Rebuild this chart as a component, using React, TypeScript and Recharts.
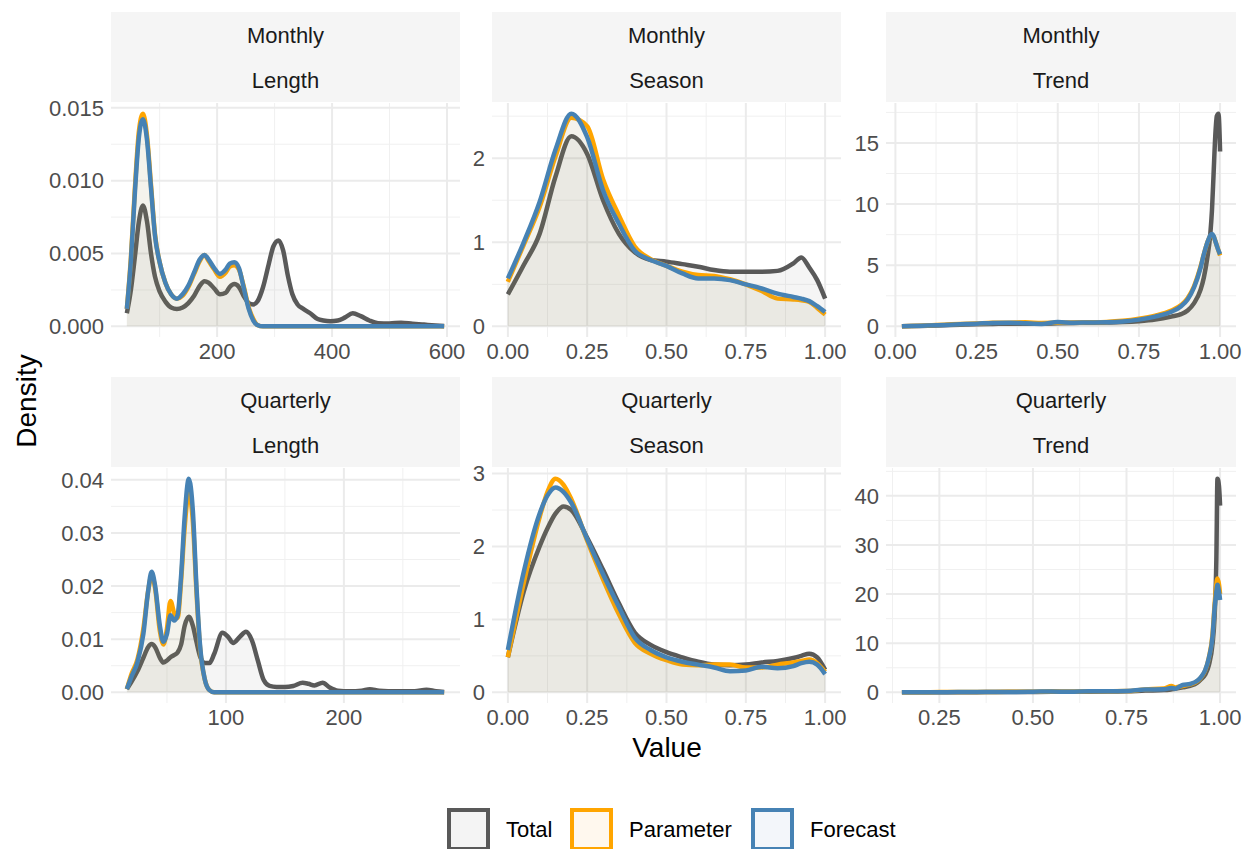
import React from 'react';
import { ComposedChart, Area, XAxis, YAxis, CartesianGrid } from 'recharts';

const FONT = '"Liberation Sans", Arial, Helvetica, sans-serif';

const seriesNames = ['Total', 'Parameter', 'Forecast'];
const seriesColors = ['#595959', '#FFA500', '#4682B4'];
const legendFills = ['#F4F4F4', '#FFF8EE', '#F3F6FA'];

// Monthly / Length
const mLenX = [43, 50, 57, 64, 71, 78, 85, 92, 100, 110, 120, 130, 140, 150, 160, 170, 178, 185, 195, 205, 215, 222, 230, 238, 246, 255, 263, 270, 280, 290, 298, 307, 315, 323, 331, 340, 350, 362, 375, 385, 397, 410, 422, 436, 450, 465, 480, 500, 520, 540, 560, 580, 595];
const mLenTotal = [0.0009, 0.0025, 0.0048, 0.0072, 0.0083, 0.0072, 0.005, 0.0034, 0.0024, 0.0017, 0.0013, 0.0012, 0.0013, 0.0016, 0.0021, 0.0028, 0.0031, 0.003, 0.0026, 0.0022, 0.0023, 0.0027, 0.0029, 0.0027, 0.0021, 0.0016, 0.0015, 0.0017, 0.0027, 0.0043, 0.0055, 0.0059, 0.0052, 0.0035, 0.0022, 0.0015, 0.0012, 0.0009, 0.0005, 0.0004, 0.00035, 0.0004, 0.0006, 0.0009, 0.0007, 0.0004, 0.00022, 0.0002, 0.00025, 0.00018, 0.00012, 0.00006, 0.00002];
const mLenParam = [0.0012, 0.0047, 0.0095, 0.0134, 0.0146, 0.0131, 0.0097, 0.0063, 0.0044, 0.003, 0.0022, 0.0019, 0.0021, 0.0027, 0.0036, 0.0045, 0.0049, 0.0045, 0.0039, 0.0034, 0.0037, 0.0041, 0.0042, 0.0039, 0.0028, 0.0013, 0.0005, 0.0001, 0, 0, 0, 0, 0, 0, 0, 0, 0, 0, 0, 0, 0, 0, 0, 0, 0, 0, 0, 0, 0, 0, 0, 0, 0];
const mLenFcst = [0.0012, 0.0045, 0.0092, 0.013, 0.01422, 0.0128, 0.0095, 0.0062, 0.0044, 0.003, 0.0022, 0.0019, 0.0022, 0.0028, 0.0037, 0.0046, 0.0049, 0.0046, 0.004, 0.0036, 0.0039, 0.0043, 0.0044, 0.004, 0.0027, 0.0012, 0.0004, 0.0001, 0, 0, 0, 0, 0, 0, 0, 0, 0, 0, 0, 0, 0, 0, 0, 0, 0, 0, 0, 0, 0, 0, 0, 0, 0];

// Monthly / Season
const mSeaX = [0, 0.05, 0.1, 0.15, 0.2, 0.25, 0.3, 0.35, 0.4, 0.45, 0.5, 0.55, 0.6, 0.65, 0.7, 0.75, 0.8, 0.85, 0.9, 0.925, 0.95, 0.975, 1];
const mSeaTotal = [0.38, 0.73, 1.1, 1.78, 2.26, 2.05, 1.5, 1.1, 0.88, 0.79, 0.77, 0.74, 0.71, 0.67, 0.65, 0.65, 0.65, 0.66, 0.75, 0.82, 0.7, 0.55, 0.33];
const mSeaParam = [0.53, 0.97, 1.42, 2.02, 2.48, 2.38, 1.75, 1.32, 0.95, 0.8, 0.72, 0.65, 0.61, 0.6, 0.56, 0.5, 0.42, 0.33, 0.32, 0.31, 0.29, 0.22, 0.14];
const mSeaFcst = [0.57, 1.0, 1.48, 2.1, 2.53, 2.25, 1.62, 1.22, 0.9, 0.79, 0.72, 0.63, 0.57, 0.57, 0.55, 0.5, 0.45, 0.39, 0.35, 0.33, 0.3, 0.24, 0.17];

// Monthly / Trend
const mTrdX = [0.02, 0.05, 0.1, 0.15, 0.2, 0.25, 0.3, 0.35, 0.4, 0.45, 0.5, 0.55, 0.6, 0.65, 0.7, 0.75, 0.8, 0.85, 0.88, 0.9, 0.92, 0.94, 0.95, 0.96, 0.97, 0.975, 0.98, 0.985, 0.99, 0.995, 1.0];
const mTrdTotal = [0, 0.02, 0.05, 0.1, 0.14, 0.18, 0.2, 0.22, 0.22, 0.22, 0.25, 0.28, 0.3, 0.32, 0.35, 0.42, 0.55, 0.8, 1.0, 1.3, 1.9, 3.0, 4.0, 5.5, 7.6, 9.5, 12.5, 15.5, 17.2, 17.4, 14.3];
const mTrdParam = [0, 0.03, 0.08, 0.14, 0.19, 0.24, 0.29, 0.3, 0.33, 0.28, 0.3, 0.32, 0.33, 0.36, 0.45, 0.62, 0.88, 1.3, 1.75, 2.3, 3.3, 4.9, 5.9, 6.8, 7.4, 7.5, 7.35, 7.0, 6.6, 6.2, 5.8];
const mTrdFcst = [0, 0.03, 0.07, 0.12, 0.17, 0.22, 0.28, 0.3, 0.25, 0.2, 0.35, 0.3, 0.32, 0.33, 0.4, 0.55, 0.8, 1.2, 1.65, 2.2, 3.2, 4.8, 5.9, 6.8, 7.45, 7.55, 7.4, 7.0, 6.6, 6.2, 5.9];

// Quarterly / Length
const qLenX = [16, 20, 25, 30, 34, 37, 40, 44, 47, 50, 53, 56, 59, 62, 65, 68.5, 72, 75, 78, 82, 86, 90, 97, 102, 106, 112, 117, 122, 127, 132, 137, 143, 150, 157, 165, 170, 175, 182, 188, 195, 205, 215, 222, 230, 245, 260, 270, 278, 285];
const qLenTotal = [0.0006, 0.002, 0.004, 0.0065, 0.0085, 0.0091, 0.0085, 0.0065, 0.0056, 0.006, 0.0066, 0.007, 0.0075, 0.009, 0.0125, 0.0142, 0.0125, 0.0095, 0.0068, 0.0055, 0.0055, 0.0072, 0.0112, 0.0104, 0.0093, 0.0105, 0.0114, 0.0098, 0.006, 0.0023, 0.0012, 0.001, 0.001, 0.0012, 0.0018, 0.0016, 0.0013, 0.0018, 0.0009, 0.0003, 0.0002, 0.0003, 0.0006, 0.0003, 0.0002, 0.0002, 0.0005, 0.0002, 0.00005];
const qLenParam = [0.0006, 0.0035, 0.0062, 0.012, 0.019, 0.022, 0.0195, 0.0115, 0.009, 0.012, 0.0172, 0.015, 0.014, 0.021, 0.031, 0.0375, 0.032, 0.019, 0.0085, 0.0025, 0.0004, 0, 0, 0, 0, 0, 0, 0, 0, 0, 0, 0, 0, 0, 0, 0, 0, 0, 0, 0, 0, 0, 0, 0, 0, 0, 0, 0, 0];
const qLenFcst = [0.0006, 0.003, 0.0057, 0.011, 0.019, 0.0227, 0.02, 0.0125, 0.0095, 0.011, 0.0145, 0.0135, 0.0145, 0.022, 0.033, 0.0402, 0.034, 0.02, 0.009, 0.0025, 0.0004, 0, 0, 0, 0, 0, 0, 0, 0, 0, 0, 0, 0, 0, 0, 0, 0, 0, 0, 0, 0, 0, 0, 0, 0, 0, 0, 0, 0];

// Quarterly / Season
const qSeaX = [0, 0.05, 0.1, 0.125, 0.15, 0.175, 0.2, 0.25, 0.3, 0.35, 0.4, 0.45, 0.5, 0.55, 0.6, 0.65, 0.7, 0.75, 0.8, 0.85, 0.9, 0.925, 0.95, 0.975, 1];
const qSeaTotal = [0.48, 1.38, 2.0, 2.25, 2.45, 2.55, 2.5, 2.12, 1.68, 1.22, 0.82, 0.65, 0.55, 0.48, 0.42, 0.38, 0.37, 0.38, 0.41, 0.43, 0.47, 0.5, 0.53, 0.48, 0.31];
const qSeaParam = [0.48, 1.5, 2.4, 2.75, 2.93, 2.85, 2.65, 2.08, 1.55, 1.07, 0.68, 0.53, 0.44, 0.38, 0.37, 0.38, 0.38, 0.34, 0.34, 0.38, 0.41, 0.43, 0.45, 0.4, 0.28];
const qSeaFcst = [0.58, 1.65, 2.45, 2.7, 2.81, 2.75, 2.6, 2.1, 1.62, 1.17, 0.75, 0.58, 0.48, 0.42, 0.38, 0.34, 0.29, 0.3, 0.35, 0.33, 0.36, 0.4, 0.42, 0.38, 0.25];

// Quarterly / Trend
const qTrdX = [0.15, 0.2, 0.25, 0.3, 0.35, 0.4, 0.45, 0.5, 0.55, 0.6, 0.65, 0.7, 0.75, 0.8, 0.85, 0.87, 0.88, 0.9, 0.92, 0.94, 0.95, 0.96, 0.97, 0.98, 0.985, 0.99, 0.993, 0.997, 1.0];
const qTrdTotal = [0, 0, 0.02, 0.03, 0.03, 0.05, 0.05, 0.08, 0.1, 0.1, 0.12, 0.15, 0.2, 0.35, 0.45, 0.6, 0.7, 1.0, 1.3, 2.0, 2.7, 3.6, 5.5, 10, 15, 27, 43.5, 42, 38];
const qTrdParam = [0, 0.03, 0.04, 0.05, 0.07, 0.08, 0.1, 0.12, 0.15, 0.12, 0.2, 0.22, 0.25, 0.6, 0.8, 1.3, 1.0, 1.3, 1.6, 2.3, 3.1, 4.4, 7.0, 12, 17.5, 22, 23.2, 22, 20];
const qTrdFcst = [0, 0.02, 0.03, 0.05, 0.05, 0.08, 0.08, 0.12, 0.18, 0.1, 0.2, 0.2, 0.25, 0.55, 0.6, 0.9, 0.75, 1.5, 1.7, 2.4, 3.2, 4.5, 7.0, 11.5, 16.8, 20.5, 21.9, 20.5, 18.8];

// tick labels
const lenMonthlyXTicks = [200, 400, 600];
const lenMonthlyYTicks = [0, 0.005, 0.01, 0.015];
const lenQuarterlyXTicks = [100, 200];
const lenQuarterlyYTicks = [0, 0.01, 0.02, 0.03, 0.04];
const unitXTicks = [0, 0.25, 0.5, 0.75, 1];
const qTrendXTicks = [0.25, 0.5, 0.75, 1];
const mSeaYTicks = [0, 1, 2];
const mTrdYTicks = [0, 5, 10, 15];
const qSeaYTicks = [0, 1, 2, 3];
const qTrdYTicks = [0, 10, 20, 30, 40];

const AXW = 80;
const AXH = 40;
const PADT = 8;
const PADR = 24;

const minorOf = (ticks: number[], lo: number, hi: number) => {
  const step = ticks[1] - ticks[0];
  const out: number[] = [];
  for (let v = ticks[0] - step / 2; v <= hi; v += step) {
    if (v >= lo) out.push(v);
  }
  return out;
};

interface PanelProps {
  left: number;
  top: number;
  width: number;
  height: number;
  freq: string;
  feature: string;
  xs: number[];
  total: number[];
  param: number[];
  fcst: number[];
  xTicks: number[];
  yTicks: number[];
  xDigits: number;
  yDigits: number;
}

function Panel(p: PanelProps) {
  const data = p.xs.map((x, i) => ({ x, total: p.total[i], param: p.param[i], fcst: p.fcst[i] }));
  const xMin = Math.min(...p.xs);
  const xMax = Math.max(...p.xs);
  const xPad = (xMax - xMin) * 0.05;
  const yMax = Math.max(...p.total, ...p.param, ...p.fcst);
  const yPad = yMax * 0.05;
  const xDomain = [xMin - xPad, xMax + xPad];
  const yDomain = [-yPad, yMax + yPad];
  const minorX = minorOf(p.xTicks, xDomain[0], xDomain[1]);
  const minorY = minorOf(p.yTicks, yDomain[0], yDomain[1]);
  const tickStyle = { fill: '#4D4D4D', fontSize: 22, fontFamily: FONT };
  const keys = ['total', 'param', 'fcst'];

  return (
    <>
      <div
        style={{
          position: 'absolute',
          left: p.left,
          top: p.top - 91,
          width: p.width,
          height: 90,
          background: '#F5F5F5',
          fontFamily: FONT,
          fontSize: 22,
          color: '#1A1A1A',
          textAlign: 'center',
        }}
      >
        <div style={{ position: 'absolute', left: 0, right: 0, top: 23 - 12, lineHeight: '26px' }}>{p.freq}</div>
        <div style={{ position: 'absolute', left: 0, right: 0, top: 68 - 12, lineHeight: '26px' }}>{p.feature}</div>
      </div>
      <div style={{ position: 'absolute', left: p.left - AXW, top: p.top - PADT }}>
        <ComposedChart
          width={AXW + p.width + PADR}
          height={PADT + p.height + AXH}
          data={data}
          margin={{ top: PADT, right: PADR, left: 0, bottom: 0 }}
        >
          <CartesianGrid horizontalValues={minorY} verticalValues={minorX} stroke="#F0F0F0" strokeWidth={1} />
          <CartesianGrid horizontalValues={p.yTicks} verticalValues={p.xTicks} stroke="#EBEBEB" strokeWidth={2} />
          <XAxis
            type="number"
            dataKey="x"
            domain={xDomain}
            ticks={p.xTicks}
            interval={0}
            allowDataOverflow
            axisLine={false}
            tickLine={false}
            tickSize={0}
            tickMargin={6}
            height={AXH}
            tick={tickStyle}
            tickFormatter={(v: number) => v.toFixed(p.xDigits)}
          />
          <YAxis
            type="number"
            domain={yDomain}
            ticks={p.yTicks}
            interval={0}
            allowDataOverflow
            axisLine={false}
            tickLine={false}
            tickSize={0}
            tickMargin={7}
            width={AXW}
            tick={tickStyle}
            tickFormatter={(v: number) => v.toFixed(p.yDigits)}
          />
          {keys.map((k, i) => (
            <Area
              key={k}
              type="monotone"
              dataKey={k}
              baseValue={0}
              stroke={seriesColors[i]}
              strokeWidth={4.5}
              strokeLinejoin="round"
              fill={seriesColors[i]}
              fillOpacity={0.06}
              dot={false}
              activeDot={false}
              isAnimationActive={false}
            />
          ))}
        </ComposedChart>
      </div>
    </>
  );
}

const colX = [111, 492, 886];
const colW = [349, 349, 350];
const rowY = [103, 468];
const rowH = [234, 235];

export default function App() {
  return (
    <div style={{ position: 'absolute', left: 0, top: 0, width: 1244, height: 849, background: '#fff', overflow: 'hidden' }}>
      <Panel left={colX[0]} top={rowY[0]} width={colW[0]} height={rowH[0]} freq="Monthly" feature="Length"
        xs={mLenX} total={mLenTotal} param={mLenParam} fcst={mLenFcst}
        xTicks={lenMonthlyXTicks} yTicks={lenMonthlyYTicks} xDigits={0} yDigits={3} />
      <Panel left={colX[1]} top={rowY[0]} width={colW[1]} height={rowH[0]} freq="Monthly" feature="Season"
        xs={mSeaX} total={mSeaTotal} param={mSeaParam} fcst={mSeaFcst}
        xTicks={unitXTicks} yTicks={mSeaYTicks} xDigits={2} yDigits={0} />
      <Panel left={colX[2]} top={rowY[0]} width={colW[2]} height={rowH[0]} freq="Monthly" feature="Trend"
        xs={mTrdX} total={mTrdTotal} param={mTrdParam} fcst={mTrdFcst}
        xTicks={unitXTicks} yTicks={mTrdYTicks} xDigits={2} yDigits={0} />
      <Panel left={colX[0]} top={rowY[1]} width={colW[0]} height={rowH[1]} freq="Quarterly" feature="Length"
        xs={qLenX} total={qLenTotal} param={qLenParam} fcst={qLenFcst}
        xTicks={lenQuarterlyXTicks} yTicks={lenQuarterlyYTicks} xDigits={0} yDigits={2} />
      <Panel left={colX[1]} top={rowY[1]} width={colW[1]} height={rowH[1]} freq="Quarterly" feature="Season"
        xs={qSeaX} total={qSeaTotal} param={qSeaParam} fcst={qSeaFcst}
        xTicks={unitXTicks} yTicks={qSeaYTicks} xDigits={2} yDigits={0} />
      <Panel left={colX[2]} top={rowY[1]} width={colW[2]} height={rowH[1]} freq="Quarterly" feature="Trend"
        xs={qTrdX} total={qTrdTotal} param={qTrdParam} fcst={qTrdFcst}
        xTicks={qTrendXTicks} yTicks={qTrdYTicks} xDigits={2} yDigits={0} />

      <div style={{ position: 'absolute', left: 567, top: 731, width: 200, textAlign: 'center', fontFamily: FONT, fontSize: 28, lineHeight: '34px', color: '#000' }}>
        Value
      </div>
      <div style={{ position: 'absolute', left: 27 - 100, top: 401 - 17, width: 200, textAlign: 'center', fontFamily: FONT, fontSize: 28, lineHeight: '34px', color: '#000', transform: 'rotate(-90deg)' }}>
        Density
      </div>

      {seriesNames.map((name, i) => {
        const boxLeft = [447, 570, 751][i];
        return (
          <React.Fragment key={name}>
            <div style={{ position: 'absolute', left: boxLeft, top: 808, width: 43, height: 43, boxSizing: 'border-box', border: `4px solid ${seriesColors[i]}`, background: legendFills[i] }} />
            <div style={{ position: 'absolute', left: boxLeft + 59, top: 830 - 13, fontFamily: FONT, fontSize: 22, lineHeight: '26px', color: '#000', whiteSpace: 'nowrap' }}>
              {name}
            </div>
          </React.Fragment>
        );
      })}
    </div>
  );
}
